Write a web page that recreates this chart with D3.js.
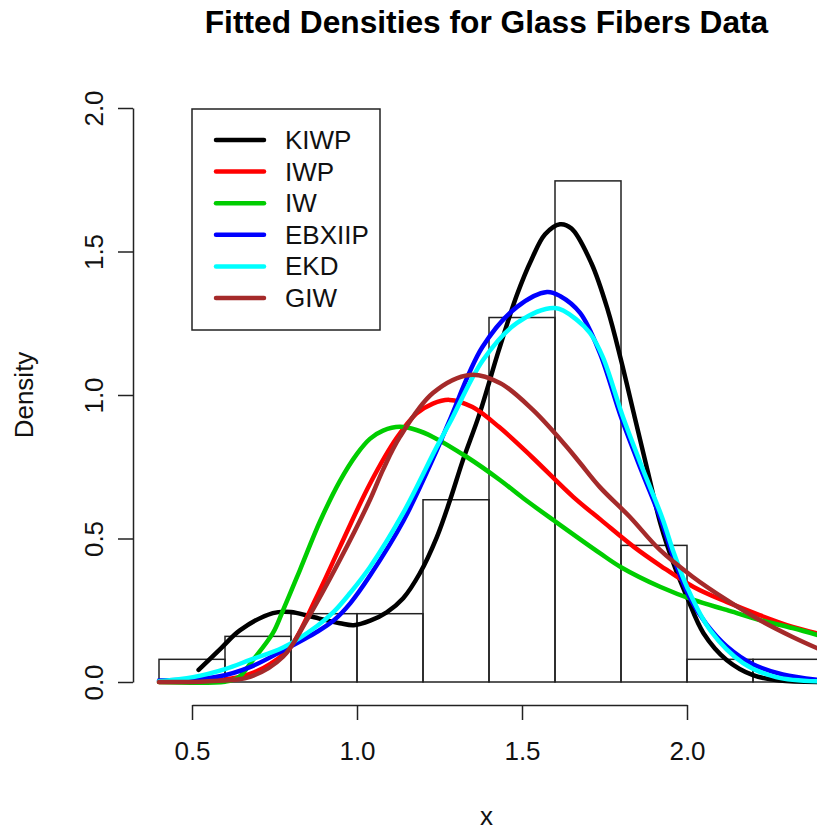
<!DOCTYPE html>
<html>
<head>
<meta charset="utf-8">
<script src="https://cdn.jsdelivr.net/npm/d3@7"></script>
<style>
  body { margin: 0; background: #fff; }
  svg { display: block; font-family: "Liberation Sans", Arial, sans-serif; }
</style>
</head>
<body>
<svg id="chart" width="817" height="835"></svg>
<script>
(function() {
  // histogram (glass fibers, n = 63), bins of width 0.2
  const binEdges = [0.4, 0.6, 0.8, 1.0, 1.2, 1.4, 1.6, 1.8, 2.0, 2.2, 2.4];
  const binDensity = [0.079, 0.159, 0.238, 0.238, 0.635, 1.270, 1.746, 0.476, 0.079, 0.079];

  // fitted curves as [x, density]
  const kiwp = [[0.52,0.042],[0.59,0.12],[0.645,0.18],[0.745,0.24],[0.80,0.244],[0.86,0.228],[0.948,0.205],
    [0.99,0.198],[1.04,0.214],[1.09,0.243],[1.14,0.292],[1.19,0.378],[1.242,0.505],[1.282,0.634],[1.321,0.773],
    [1.37,0.93],[1.43,1.157],[1.485,1.35],[1.53,1.475],[1.57,1.56],[1.615,1.595],[1.65,1.58],[1.71,1.46],
    [1.76,1.296],[1.80,1.122],[1.84,0.93],[1.88,0.739],[1.92,0.55],[1.96,0.41],[2.00,0.296],[2.05,0.17],
    [2.12,0.077],[2.20,0.024],[2.28,0.005],[2.40,0.0]];
  const iwp = [[0.40,0.0],[0.55,0.003],[0.62,0.012],[0.68,0.03],[0.74,0.065],[0.797,0.12],[0.879,0.30],
    [0.948,0.47],[1.039,0.69],[1.12,0.85],[1.18,0.935],[1.23,0.97],[1.28,0.983],[1.35,0.958],[1.43,0.889],
    [1.53,0.784],[1.655,0.645],[1.74,0.564],[1.84,0.47],[1.92,0.405],[2.02,0.331],[2.12,0.279],[2.22,0.233],
    [2.32,0.192],[2.40,0.168]];
  const iw = [[0.40,0.0],[0.60,0.001],[0.64,0.015],[0.685,0.077],[0.745,0.17],[0.776,0.25],[0.827,0.39],
    [0.888,0.56],[0.948,0.70],[1.00,0.795],[1.04,0.848],[1.079,0.876],[1.13,0.889],[1.18,0.878],[1.23,0.854],
    [1.333,0.784],[1.433,0.704],[1.503,0.641],[1.60,0.56],[1.736,0.449],[1.80,0.40],[1.92,0.331],[2.02,0.286],
    [2.12,0.251],[2.22,0.216],[2.32,0.188],[2.40,0.162]];
  const ebxiip = [[0.40,0.005],[0.576,0.018],[0.676,0.052],[0.776,0.11],[0.879,0.175],[0.93,0.215],[0.98,0.275],
    [1.039,0.37],[1.14,0.56],[1.242,0.808],[1.28,0.91],[1.38,1.167],[1.485,1.307],[1.576,1.359],[1.615,1.345],
    [1.676,1.286],[1.736,1.146],[1.80,0.923],[1.861,0.739],[1.918,0.575],[1.96,0.43],[2.01,0.29],[2.06,0.2],
    [2.12,0.125],[2.20,0.062],[2.29,0.026],[2.40,0.007]];
  const ekd = [[0.40,0.003],[0.503,0.017],[0.60,0.045],[0.676,0.077],[0.776,0.12],[0.879,0.195],[0.93,0.245],
    [0.979,0.31],[1.039,0.40],[1.14,0.589],[1.242,0.82],[1.282,0.905],[1.382,1.122],[1.485,1.251],[1.60,1.303],
    [1.667,1.261],[1.706,1.216],[1.745,1.132],[1.806,0.923],[1.867,0.739],[1.924,0.575],[1.96,0.45],[2.00,0.331],
    [2.07,0.181],[2.17,0.066],[2.27,0.017],[2.40,0.002]];
  const giw = [[0.40,0.0],[0.55,0.003],[0.676,0.018],[0.776,0.088],[0.848,0.216],[0.948,0.425],[1.039,0.634],
    [1.079,0.74],[1.13,0.854],[1.23,1.007],[1.342,1.07],[1.433,1.042],[1.533,0.948],[1.636,0.819],[1.676,0.763],
    [1.736,0.679],[1.827,0.575],[1.918,0.46],[2.018,0.366],[2.12,0.286],[2.22,0.216],[2.32,0.157],[2.40,0.115]];

  const seriesNames = ["KIWP", "IWP", "IW", "EBXIIP", "EKD", "GIW"];
  const seriesData = [kiwp, iwp, iw, ebxiip, ekd, giw];
  const seriesColors = ["#000000", "#ff0000", "#00cd00", "#0000ff", "#00ffff", "#a52a2a"];

  const xTicks = [0.5, 1.0, 1.5, 2.0];
  const yTicks = [0.0, 0.5, 1.0, 1.5, 2.0];

  const svg = d3.select("#chart");
  const fontSize = 26;

  // plot region (R style: usr extends 4% past the data range)
  const plot = { left: 133, right: 840, top: 85, bottom: 705 };

  const x = d3.scaleLinear().domain([0.5, 2.0]).range([192, 687]);
  const y = d3.scaleLinear().domain([0, 2]).range([682, 108]);

  svg.append("defs").append("clipPath").attr("id", "plotclip")
    .append("rect")
    .attr("x", plot.left).attr("y", plot.top)
    .attr("width", plot.right - plot.left).attr("height", plot.bottom - plot.top);

  const g = svg.append("g").attr("clip-path", "url(#plotclip)");

  // histogram bars
  g.selectAll("rect.bar")
    .data(binDensity)
    .enter().append("rect")
      .attr("class", "bar")
      .attr("x", (d, i) => x(binEdges[i]))
      .attr("width", (d, i) => x(binEdges[i + 1]) - x(binEdges[i]))
      .attr("y", d => y(d))
      .attr("height", d => y(0) - y(d))
      .attr("fill", "none")
      .attr("stroke", "#222")
      .attr("stroke-width", 1.5);

  // density curves
  const line = d3.line()
    .x(d => x(d[0]))
    .y(d => y(d[1]))
    .curve(d3.curveCatmullRom.alpha(0.5));

  seriesData.forEach((pts, i) => {
    g.append("path")
      .datum(pts)
      .attr("d", line)
      .attr("fill", "none")
      .attr("stroke", seriesColors[i])
      .attr("stroke-width", 4.5)
      .attr("stroke-linejoin", "round")
      .attr("stroke-linecap", "round");
  });

  // x axis
  const xAxis = svg.append("g")
    .attr("transform", `translate(0,${plot.bottom})`)
    .call(d3.axisBottom(x).tickValues(xTicks).tickSize(15).tickSizeOuter(0)
      .tickFormat(d3.format(".1f")));
  xAxis.selectAll("text")
    .attr("font-size", fontSize)
    .attr("fill", "#111")
    .attr("y", 55).attr("dy", 0);

  // y axis
  const yAxis = svg.append("g")
    .attr("transform", `translate(${plot.left},0)`)
    .call(d3.axisLeft(y).tickValues(yTicks).tickSize(15).tickSizeOuter(0)
      .tickFormat(d3.format(".1f")));
  yAxis.selectAll("text")
    .attr("font-size", fontSize)
    .attr("fill", "#111")
    .attr("x", null).attr("dy", null)
    .attr("text-anchor", "middle")
    .attr("transform", "translate(-30,0) rotate(-90)");

  svg.selectAll(".domain, .tick line")
    .attr("stroke", "#222")
    .attr("stroke-width", 1.5);

  // titles
  svg.append("text")
    .attr("x", (plot.left + plot.right) / 2).attr("y", 33)
    .attr("text-anchor", "middle")
    .attr("font-size", 31.7)
    .attr("font-weight", "bold")
    .attr("fill", "#000")
    .text("Fitted Densities for Glass Fibers Data");

  svg.append("text")
    .attr("x", (plot.left + plot.right) / 2).attr("y", 825)
    .attr("text-anchor", "middle")
    .attr("font-size", fontSize)
    .attr("fill", "#111")
    .text("x");

  svg.append("text")
    .attr("transform", `translate(33,${(plot.top + plot.bottom) / 2}) rotate(-90)`)
    .attr("text-anchor", "middle")
    .attr("font-size", fontSize)
    .attr("fill", "#111")
    .text("Density");

  // legend
  const legend = svg.append("g");
  legend.append("rect")
    .attr("x", 192).attr("y", 109)
    .attr("width", 188).attr("height", 221)
    .attr("fill", "#fff")
    .attr("stroke", "#222")
    .attr("stroke-width", 1.5);

  const rowY = d3.scaleLinear().domain([0, 5]).range([140, 298]);
  seriesNames.forEach((name, i) => {
    legend.append("line")
      .attr("x1", 216).attr("x2", 264)
      .attr("y1", rowY(i)).attr("y2", rowY(i))
      .attr("stroke", seriesColors[i])
      .attr("stroke-width", 4.5)
      .attr("stroke-linecap", "round");
    legend.append("text")
      .attr("x", 285).attr("y", rowY(i) + 9)
      .attr("font-size", fontSize)
      .attr("fill", "#111")
      .text(name);
  });
})();
</script>
</body>
</html>
